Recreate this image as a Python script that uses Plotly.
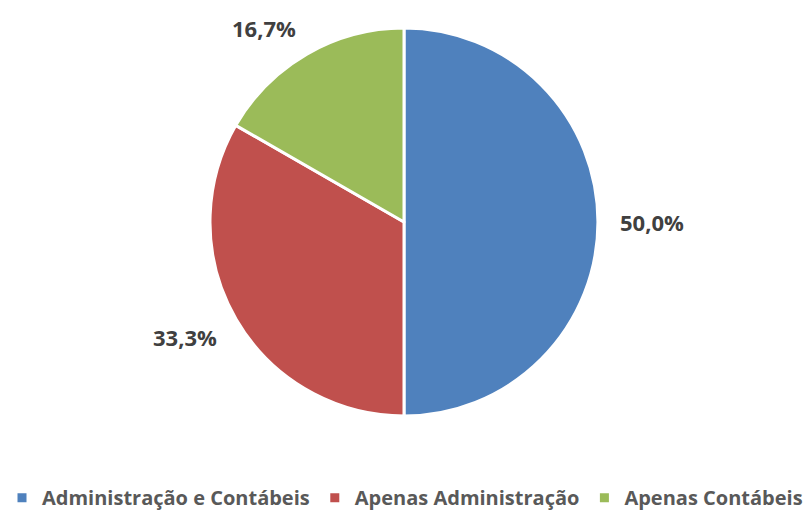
import math
import plotly.graph_objects as go

categories = ["Administração e Contábeis", "Apenas Administração", "Apenas Contábeis"]
values = [50.0, 33.3, 16.7]
colors = ["#4F81BD", "#C0504D", "#9BBB59"]

W, H = 810, 511
CX, CY, R = 404, 222, 194          # pie centre / radius in pixels
LABEL_GAP = 21                     # distance of label box from the rim
LABEL_FONT = 22
CHAR_W = 13.0                      # approx. glyph width of label text
HALF_H = 7.5                       # approx. half height of digits

labels_text = [f"{v:.1f}%".replace(".", ",") for v in values]

fig = go.Figure(go.Pie(
    labels=categories,
    values=values,
    textinfo="none",
    textposition="none",
    sort=False,
    direction="clockwise",
    rotation=0,
    marker=dict(colors=colors, line=dict(color="white", width=3)),
    domain=dict(x=[(CX - 400) / W, (CX + 400) / W],
                y=[(H - (CY + R)) / H, (H - (CY - R)) / H]),
    hoverinfo="label+percent",
))

total = sum(values)
cum = 0.0
annotations = []
for v, t in zip(values, labels_text):
    mid = (cum + v / 2) / total
    cum += v
    th = 2 * math.pi * mid
    s, c = math.sin(th), math.cos(th)
    ax = CX + (R + LABEL_GAP) * s
    ay = CY - (R + LABEL_GAP) * c
    hw = len(t) * CHAR_W / 2
    sx = 0 if abs(s) < 0.3 else (1 if s > 0 else -1)
    sy = 0 if abs(c) < 0.3 else (-1 if c > 0 else 1)
    px = ax + sx * hw
    py = ay + sy * HALF_H
    annotations.append(dict(
        x=px / W, y=1 - py / H, xref="paper", yref="paper",
        text=t, showarrow=False, xanchor="center", yanchor="middle",
        font=dict(family="Open Sans", size=LABEL_FONT, color="#404040", weight="bold"),
    ))

fig.update_layout(
    width=W, height=H,
    margin=dict(l=0, r=0, t=0, b=0, autoexpand=False),
    paper_bgcolor="white",
    showlegend=True,
    annotations=annotations,
    legend=dict(
        orientation="h", x=0.5, xanchor="center",
        y=-0.012, yanchor="bottom",
        itemwidth=30,
        font=dict(family="Open Sans", size=20, color="#595959", weight="bold"),
    ),
)

fig.write_html("out.html", config={"displayModeBar": False},
               post_script="document.body.style.margin='0';")
